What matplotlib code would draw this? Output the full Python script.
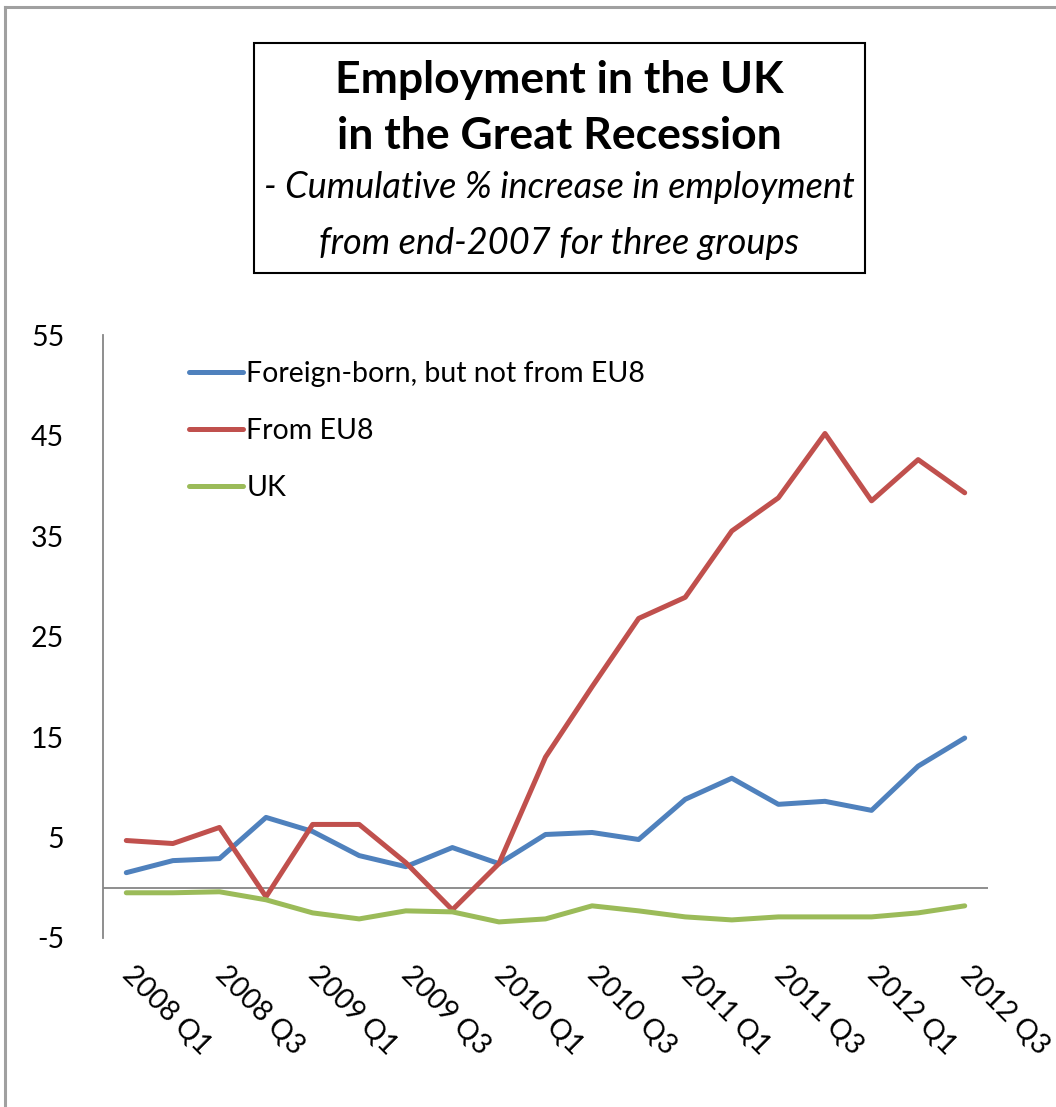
import numpy as np
import matplotlib
matplotlib.use("Agg")
import matplotlib.pyplot as plt
from matplotlib.lines import Line2D
from matplotlib.patches import Rectangle
from matplotlib.transforms import ScaledTranslation

plt.rcParams['font.family'] = ['Lato', 'DejaVu Sans']

quarters = ["2008 Q1", "2008 Q2", "2008 Q3", "2008 Q4",
            "2009 Q1", "2009 Q2", "2009 Q3", "2009 Q4",
            "2010 Q1", "2010 Q2", "2010 Q3", "2010 Q4",
            "2011 Q1", "2011 Q2", "2011 Q3", "2011 Q4",
            "2012 Q1", "2012 Q2", "2012 Q3"]

foreign_not_eu8 = [1.5, 2.7, 2.9, 7.0, 5.6, 3.2, 2.1, 4.0, 2.4, 5.3,
                   5.5, 4.8, 8.8, 10.9, 8.3, 8.6, 7.7, 12.1, 14.9]
from_eu8 = [4.7, 4.4, 6.0, -0.9, 6.3, 6.3, 2.5, -2.2, 2.4, 13.0,
            20.0, 26.8, 28.9, 35.5, 38.8, 45.2, 38.5, 42.6, 39.3]
uk_born = [-0.5, -0.5, -0.4, -1.2, -2.5, -3.1, -2.3, -2.4, -3.4, -3.1,
           -1.8, -2.3, -2.9, -3.2, -2.9, -2.9, -2.9, -2.5, -1.8]

series_names = ["Foreign-born, but not from EU8", "From EU8", "UK"]
series_colors = ["#4F81BD", "#C0504D", "#9BBB59"]

y_ticks = [-5, 5, 15, 25, 35, 45, 55]

W, H = 1056, 1107
fig = plt.figure(figsize=(W / 100, H / 100), dpi=100)
fig.patch.set_facecolor("white")

# outer chart-area border (top and left edges)
fig.add_artist(Line2D([5 / W, 1.0], [1 - 7 / H, 1 - 7 / H], color="#A0A0A0", lw=2.2))
fig.add_artist(Line2D([5 / W, 5 / W], [0, 1 - 7 / H], color="#A0A0A0", lw=2.2))

ax = fig.add_axes([103 / W, 1 - 938 / H, (988 - 103) / W, (938 - 335) / H])
x = np.arange(len(quarters))
for vals, name, col in zip([foreign_not_eu8, from_eu8, uk_born], series_names, series_colors):
    ax.plot(x, vals, color=col, lw=3.6, solid_joinstyle="round",
            solid_capstyle="round", label=name, zorder=3)

ax.set_xlim(-0.5, len(quarters) - 0.5)
ax.set_ylim(-5, 55)
ax.axhline(0, color="#868686", lw=1.3, zorder=2)

for side in ["top", "right", "bottom"]:
    ax.spines[side].set_visible(False)
ax.spines["left"].set_color("#868686")
ax.spines["left"].set_linewidth(1.3)

ax.set_yticks(y_ticks)
ax.set_yticklabels([str(v) for v in y_ticks], fontsize=20.5)
ax.tick_params(axis="y", length=0, pad=28)

tick_pos = x[::2]
ax.set_xticks(tick_pos)
ax.set_xticklabels([quarters[i] for i in tick_pos], fontsize=20.5,
                   rotation=-45, ha="left", va="top", rotation_mode="anchor")
ax.tick_params(axis="x", length=0, pad=17)
shift = ScaledTranslation(9 / 100, 0, fig.dpi_scale_trans)
for lbl in ax.get_xticklabels():
    lbl.set_transform(lbl.get_transform() + shift)

leg = ax.legend(loc="upper left", bbox_to_anchor=(75 / (988 - 103), 1 - 15 / 603),
                frameon=False, fontsize=20.5, handlelength=1.9, handletextpad=0.1,
                labelspacing=1.08, borderaxespad=0)

# title box
fig.add_artist(Rectangle((254 / W, 1 - 273 / H), (865 - 254) / W, (273 - 43) / H,
                         fill=False, edgecolor="black", lw=1.5))
cx = 559 / W
fig.text(cx, 1 - 80 / H, "Employment in the UK", ha="center", va="center",
         fontsize=32, fontweight="bold")
fig.text(cx, 1 - 136 / H, "in the Great Recession", ha="center", va="center",
         fontsize=32, fontweight="bold")
fig.text(cx, 1 - 188 / H, "- Cumulative % increase in employment", ha="center",
         va="center", fontsize=26, style="italic")
fig.text(cx, 1 - 243 / H, "from end-2007 for three groups", ha="center",
         va="center", fontsize=26, style="italic")

fig.savefig("out.png", dpi=100)
